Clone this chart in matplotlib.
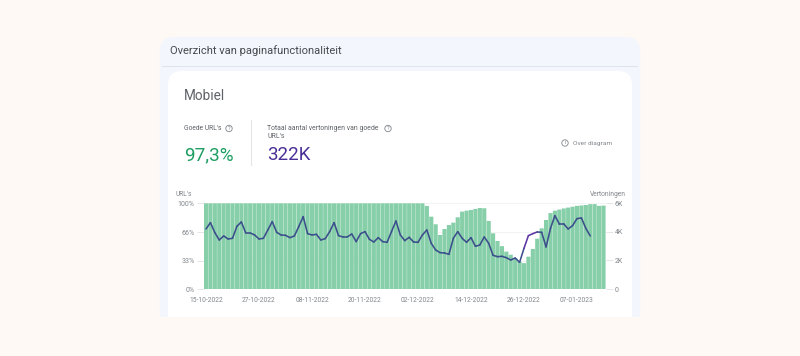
import matplotlib
matplotlib.use("Agg")
import matplotlib.pyplot as plt
from matplotlib.collections import LineCollection
from matplotlib.patches import Circle, FancyBboxPatch, Rectangle
import numpy as np

plt.rcParams['font.family'] = ['Roboto', 'DejaVu Sans']

W, H = 800, 356

# share of good URLs per day (%)
good_urls = [100] * 50 + [
    96.9, 84.4, 75.5, 63, 70, 74.7, 77.4, 83.7, 90.3, 91.4,
    92.2, 93.4, 94.5, 94.2, 79.4, 65, 56, 50, 43.6, 40,
    35.8, 31.9, 30.2, 37.7, 46.7, 58.7, 70.8, 80.5, 88.6, 91.4,
    92.7, 94, 95, 96, 97, 97.5, 98, 99, 99, 97, 97.3,
]

# impressions per day, stops a few days before the bars do
impressions = [
    4203, 4646, 3946, 3432, 3712, 3502, 3549, 4390, 4693, 3923, 3923,
    3783, 3502, 3549, 4133, 4717, 3969, 3783, 3759, 3596, 3712, 4366,
    5067, 3876, 3783, 3829, 3432, 3526, 4016, 4646, 3736, 3643, 3643,
    3853, 3316, 3876, 4016, 3479, 3292, 3596, 3316, 3269, 4016, 4763,
    3783, 3386, 3619, 3292, 3269, 3783, 4133, 3199, 2732, 2545, 2522,
    2428, 3549, 4016, 3549, 3269, 3596, 2989, 3082, 3643, 3199, 2358,
    2265, 2288, 2195, 2031, 2172, 1868, 2849, 3736, 3876, 3993, 3969,
    2942, 4250, 5137, 4553, 4553, 4203, 4437, 4927, 4973, 4250, 3713,
]

date_labels = ["15-10-2022", "27-10-2022", "08-11-2022", "20-11-2022",
               "02-12-2022", "14-12-2022", "26-12-2022", "07-01-2023"]
pct_ticks = [0, 33, 66, 100]
pct_labels = ["0%", "33%", "66%", "100%"]
imp_ticks = [0, 2000, 4000, 6000]
imp_labels = ["0", "2K", "4K", "6K"]

GREY = "#80868b"
GREEN = "#86cfa9"
PURPLE = "#5e35a5"
NAVY = "#3c4f8c"
PAGE = "#fff9f6"

fig = plt.figure(figsize=(W / 100, H / 100), dpi=100, facecolor=PAGE)

# page layer in pixel coordinates, y pointing down
bg = fig.add_axes([0, 0, 1, 1])
bg.set_xlim(0, W)
bg.set_ylim(H, 0)
bg.axis("off")

bg.add_patch(FancyBboxPatch((168, 45), 464, 290, boxstyle="round,pad=0,rounding_size=6",
                            fc="#f3f6fd", ec="#f3f6fd", lw=12))
bg.add_patch(Rectangle((162, 66.2), 476, 0.8, fc="#dfe3ea", ec="none"))
bg.add_patch(FancyBboxPatch((168, 71), 464, 270, boxstyle="round,pad=0,rounding_size=14",
                            fc="white", ec="none"))
# cut everything below the panel
bg.add_patch(Rectangle((0, 317), W, H - 317, fc=PAGE, ec="none", zorder=3))

bg.text(170, 51, "Overzicht van paginafunctionaliteit", fontsize=8.0, color="#47494d",
        va="center", ha="left")
bg.text(184, 96, "Mobiel", fontsize=9.8, color="#5f6368", va="center", ha="left")
bg.text(184, 128.5, "Goede URL's", fontsize=4.9, color="#5f6368", va="center", ha="left")
bg.text(267, 128.5, "Totaal aantal vertoningen van goede", fontsize=4.95, color="#5f6368",
        va="center", ha="left")
bg.text(267, 136.5, "URL's", fontsize=4.95, color="#5f6368", va="center", ha="left")
bg.text(184, 155, "97,3%", fontsize=13.6, color="#1e9e63", va="center", ha="left")
bg.text(267, 155, "322K", fontsize=13.5, color="#4a2f96", va="center", ha="left")
bg.text(573, 143, "Over diagram", fontsize=4.65, color=GREY, va="center", ha="left")
bg.plot([250.5, 250.5], [120, 165], color="#e4e6ea", lw=0.8)

for cx, cy, mark in [(229, 128.5, "?"), (388, 128.5, "?"), (565, 143, "i")]:
    bg.add_patch(Circle((cx, cy), 3.2, fc="none", ec=GREY, lw=0.6))
    bg.text(cx, cy, mark, fontsize=4, color=GREY, va="center", ha="center")

bg.text(176, 194.5, "URL's", fontsize=4.8, color=GREY, va="center", ha="left")
bg.text(626, 194.5, "Vertoningen", fontsize=4.8, color=GREY, va="center", ha="right")

# chart layer
left, right, top, bottom = 203.8, 605.7, 203.3, 289
ax = fig.add_axes([left / W, 1 - bottom / H, (right - left) / W, (bottom - top) / H])
ax.patch.set_alpha(0)

days = np.arange(len(good_urls))
ax.bar(days, good_urls, width=0.94, color=GREEN, linewidth=0, zorder=2, snap=False)
ax.set_xlim(-0.5, len(good_urls) - 0.5)
ax.set_ylim(0, 100)
ax.set_xticks(days[::12][:len(date_labels)])
ax.set_xticklabels(date_labels)
ax.set_yticks(pct_ticks)
ax.set_yticklabels(pct_labels)
ax.tick_params(axis="x", length=0, pad=6, labelsize=4.8, labelcolor=GREY)
ax.tick_params(axis="y", length=5, width=0.5, color="#dadce0", pad=1.5, labelsize=5, labelcolor=GREY)
ax.grid(axis="y", color="#eceef1", lw=0.5, zorder=1)
for s in ax.spines.values():
    s.set_visible(False)

ax2 = ax.twinx()
ax2.set_ylim(0, 6000)
ax2.set_yticks(imp_ticks)
ax2.set_yticklabels(imp_labels)
ax2.tick_params(axis="y", length=5, width=0.5, color="#dadce0", pad=1.5, labelsize=5, labelcolor=GREY)
for s in ax2.spines.values():
    s.set_visible(False)

# line looks navy over the bars and purple over the white part
imp = np.array(impressions, dtype=float)
xs = np.arange(len(imp))
pts = np.column_stack([xs, imp])
segs = np.stack([pts[:-1], pts[1:]], axis=1)
share = np.array(good_urls[:len(imp)]) * 60
above = (imp[:-1] > share[:-1]) & (imp[1:] > share[1:])
colors = [PURPLE if a else NAVY for a in above]
ax2.add_collection(LineCollection(segs, colors=colors, linewidths=1.15, capstyle="round"))

fig.savefig("out.png", dpi=100, facecolor=fig.get_facecolor())
